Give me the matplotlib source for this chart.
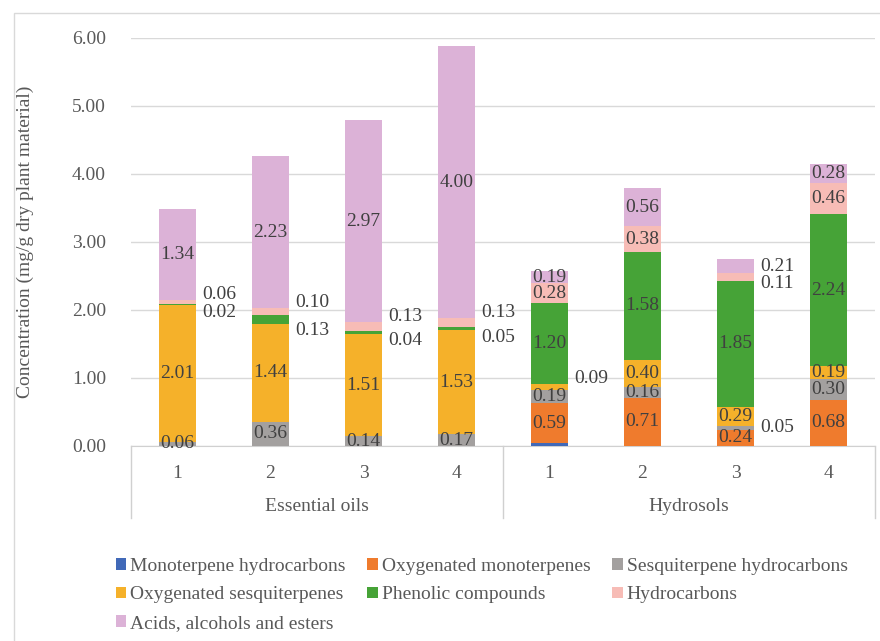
import numpy as np
import matplotlib.pyplot as plt
from matplotlib.patches import Rectangle
from matplotlib.transforms import blended_transform_factory

plt.rcParams['font.family'] = ['Liberation Serif', 'DejaVu Serif']

# categories
groups = ['Essential oils', 'Hydrosols']
samples = ['1', '2', '3', '4', '1', '2', '3', '4']

classes = ['Monoterpene hydrocarbons', 'Oxygenated monoterpenes', 'Sesquiterpene hydrocarbons',
           'Oxygenated sesquiterpenes', 'Phenolic compounds', 'Hydrocarbons',
           'Acids, alcohols and esters']
colors = ['#4169B8', '#EF7B2D', '#A3A09F', '#F5B12A', '#46A337', '#F7BCB6', '#DCB2D7']

# values (mg/g dry plant material), EO 1-4 then hydrosols 1-4
mono_hc = [0.00, 0.00, 0.00, 0.00, 0.04, 0.00, 0.00, 0.00]
oxy_mono = [0.00, 0.00, 0.00, 0.00, 0.59, 0.71, 0.24, 0.68]
sesq_hc = [0.06, 0.36, 0.14, 0.17, 0.19, 0.16, 0.05, 0.30]
oxy_sesq = [2.01, 1.44, 1.51, 1.53, 0.09, 0.40, 0.29, 0.19]
phenolic = [0.02, 0.13, 0.04, 0.05, 1.20, 1.58, 1.85, 2.24]
hydrocarb = [0.06, 0.10, 0.13, 0.13, 0.28, 0.38, 0.11, 0.46]
acids = [1.34, 2.23, 2.97, 4.00, 0.19, 0.56, 0.21, 0.28]

series = [mono_hc, oxy_mono, sesq_hc, oxy_sesq, phenolic, hydrocarb, acids]

# labels drawn beside the bar: (bar index, series index, mode)
outside = [(0, 5, 'top'), (0, 4, 'bottom'), (1, 5, 'top'), (1, 4, 'bottom'),
           (2, 5, 'top'), (2, 4, 'bottom'), (3, 5, 'top'), (3, 4, 'bottom'),
           (4, 3, 'top'), (6, 6, 'mid'), (6, 5, 'low'), (6, 2, 'mid')]

tick_col = '#595959'
lab_col = '#404040'

fig = plt.figure(figsize=(8.8, 6.41), dpi=100)
W, H = 880, 641
ax = fig.add_axes([131 / W, (H - 446) / H, (875 - 131) / W, (446 - 38) / H])

x = np.arange(len(samples))
width = 0.4
bottom = np.zeros(len(samples))
bottoms = []
for vals, col, name in zip(series, colors, classes):
    vals = np.array(vals)
    ax.bar(x, vals, width, bottom=bottom, color=col, label=name, zorder=3)
    bottoms.append(bottom.copy())
    bottom = bottom + vals

out_set = {(i, s) for i, s, _ in outside}
for s, vals in enumerate(series):
    for i, v in enumerate(vals):
        if v <= 0 or (i, s) in out_set or s == 0:
            continue
        ax.text(x[i], bottoms[s][i] + v / 2, f'{v:.2f}', ha='center', va='center',
                fontsize=14, color=lab_col, zorder=4)

for i, s, mode in outside:
    v = series[s][i]
    b = bottoms[s][i]
    if mode == 'top':
        y = b + v + 0.08
    elif mode == 'bottom':
        y = b - 0.1
    elif mode == 'low':
        y = b + v / 2 - 0.1
    else:
        y = b + v / 2
    ax.text(x[i] + 0.27, y, f'{v:.2f}', ha='left', va='center', fontsize=14,
            color=lab_col, zorder=4)

ax.set_ylim(0, 6)
ax.set_xlim(-0.5, len(samples) - 0.5)
ax.set_yticks(np.arange(0, 6.01, 1))
ax.set_yticklabels([f'{t:.2f}' for t in np.arange(0, 6.01, 1)])
ax.set_xticks(x)
ax.set_xticklabels(samples)
ax.tick_params(axis='both', length=0, labelsize=14, labelcolor=tick_col)
ax.tick_params(axis='y', pad=18)
ax.tick_params(axis='x', pad=14)
ax.grid(axis='y', color='#D9D9D9', linewidth=1, zorder=0)
for sp in ['top', 'right', 'left']:
    ax.spines[sp].set_visible(False)
ax.spines['bottom'].set_color('#D0D0D0')
ax.set_ylabel('Concentration (mg/g dry plant material)', fontsize=14, color=tick_col, labelpad=27)

# group axis
trans = blended_transform_factory(ax.transData, ax.transAxes)
for xs in [-0.5, 3.5, 7.5]:
    ax.plot([xs, xs], [0, -0.177], transform=trans, color='#D0D0D0', lw=1, clip_on=False)
for gi, g in enumerate(groups):
    ax.text(1.5 + 4 * gi, -0.149, g, transform=trans, ha='center', va='center',
            fontsize=14, color=tick_col)

# chart border
fig.patches.append(Rectangle((14 / W, -0.1), 1.2, (H - 13) / H + 0.1, transform=fig.transFigure,
                             fill=False, edgecolor='#D9D9D9', lw=1))

handles, labels = ax.get_legend_handles_labels()
order = [0, 3, 6, 1, 4, 2, 5]
leg = fig.legend([handles[k] for k in order], [labels[k] for k in order], ncol=3,
                 loc='upper left', bbox_to_anchor=(108 / W, 1 - 550 / H), frameon=False,
                 fontsize=14, handlelength=0.55, handleheight=0.55, handletextpad=0.2,
                 columnspacing=1.1, labelspacing=0.6, borderaxespad=0)
for t in leg.get_texts():
    t.set_color(tick_col)

fig.savefig('out.png', dpi=100)
